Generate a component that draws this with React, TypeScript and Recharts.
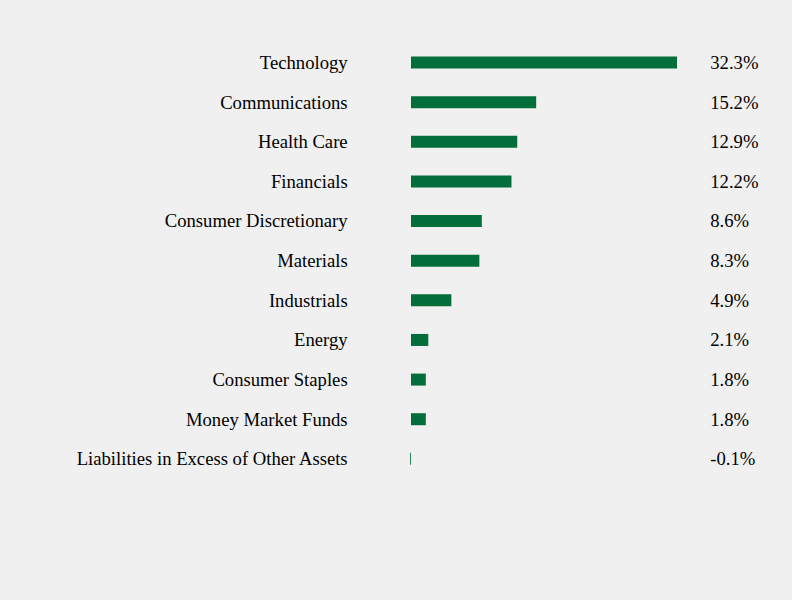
import { BarChart, Bar, XAxis, YAxis } from "recharts";

const sectors = [
  "Technology",
  "Communications",
  "Health Care",
  "Financials",
  "Consumer Discretionary",
  "Materials",
  "Industrials",
  "Energy",
  "Consumer Staples",
  "Money Market Funds",
  "Liabilities in Excess of Other Assets",
];

const weights = [32.3, 15.2, 12.9, 12.2, 8.6, 8.3, 4.9, 2.1, 1.8, 1.8, -0.1];

const data = sectors.map((name, i) => ({
  name,
  value: weights[i],
  label: `${weights[i].toFixed(1)}%`,
}));

const tickStyle = {
  fill: "#000",
  fontSize: 18.67,
  fontFamily: "'Liberation Serif', 'Times New Roman', serif",
};

const App = () => {
  return (
    <div
      style={{
        position: "fixed",
        left: 0,
        top: 0,
        width: 792,
        height: 600,
        background: "#f0f0f0",
      }}
    >
      <BarChart
        width={792}
        height={600}
        data={data}
        layout="vertical"
        margin={{ top: 42.5, right: 12.76, bottom: 121.5, left: 0 }}
      >
        <XAxis type="number" domain={[-1.5, 35]} hide />
        <YAxis
          yAxisId="left"
          type="category"
          dataKey="name"
          width={398.65}
          axisLine={false}
          tickLine={false}
          tickSize={0}
          tickMargin={51}
          tick={tickStyle}
          interval={0}
        />
        <YAxis
          yAxisId="right"
          orientation="right"
          type="category"
          dataKey="label"
          width={80}
          axisLine={false}
          tickLine={false}
          tickSize={0}
          tickMargin={11}
          tick={{ ...tickStyle, textAnchor: "start" }}
          interval={0}
        />
        <Bar
          yAxisId="left"
          dataKey="value"
          fill="#046e3a"
          barSize={12}
          isAnimationActive={false}
        />
      </BarChart>
    </div>
  );
};

export default App;
